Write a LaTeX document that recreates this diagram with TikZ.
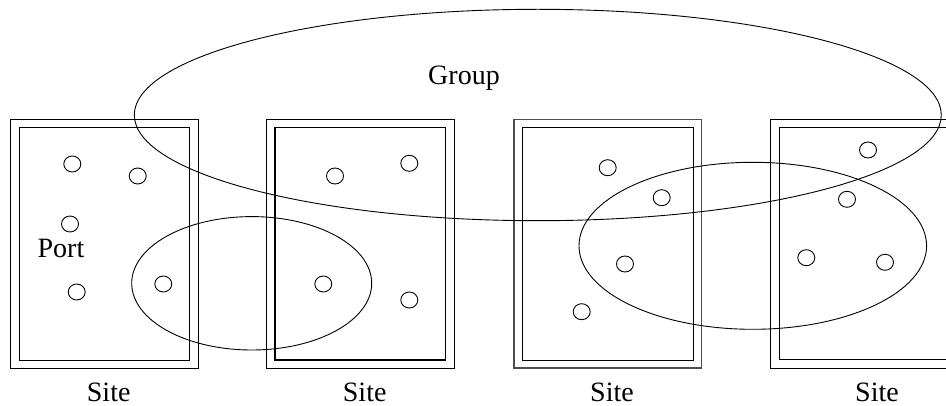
\documentclass[tikz,border=0pt]{standalone}
\usepackage{fontspec}
\setmainfont{Liberation Serif}
\begin{document}
\begin{tikzpicture}[x=1pt,y=-1pt,
  line width=0.9pt,
  port/.style={draw,line width=0.9pt},
  lbl/.style={inner sep=0pt,anchor=base,font=\fontsize{28}{32}\selectfont},
  grp/.style={draw,line width=0.9pt}]
\useasboundingbox (0,0) rectangle (946,406);
\clip (0,0) rectangle (946,406);
% sites
\draw (10.7,119.3) rectangle (198,368);
\draw (19.3,127.3) rectangle (189.3,360);
\draw (266.7,119.3) rectangle (454,368);
\draw[line width=1.4pt] (275,127.3) rectangle (445.7,360);
\draw[line width=1.4pt,black!70] (514,119.3) rectangle (701.7,368);
\draw (522.7,127.3) rectangle (693.3,360);
\draw (770.7,119.3) rectangle (960,368);
\draw (779,127.3) rectangle (960,359.5);
% ports site 1
\foreach \n/\px/\py in {a/72.3/164, b/137.7/176, c/70/224, d/76.7/292, e/163.3/284,
  f/335/176, g/409.3/163.3, h/323.3/284, i/409.3/300,
  j/607.7/167.7, k/661.7/197.7, l/625/264, m/581.7/311.7,
  n/868/150, o/847/199.3, p/806.3/257.7, q/885/262.3}
  \draw[port] (\px,\py) ellipse [x radius=8.5, y radius=8];
% groups
\draw[grp] (537.8,115) ellipse [x radius=403.5, y radius=105.7];
\draw[grp] (251.7,283.3) ellipse [x radius=120, y radius=66.7];
\draw[grp] (752.8,245.8) ellipse [x radius=173.8, y radius=83.5];
% labels
\node[lbl] (group) at (464,84.3) {Group};
\node[lbl] (port) at (61,257.3) {Port};
\node[lbl] (site1) at (108.7,401.7) {Site};
\node[lbl] (site2) at (364.7,401.7) {Site};
\node[lbl] (site3) at (612,401.7) {Site};
\node[lbl] (site4) at (877,401.7) {Site};
\end{tikzpicture}
\end{document}
